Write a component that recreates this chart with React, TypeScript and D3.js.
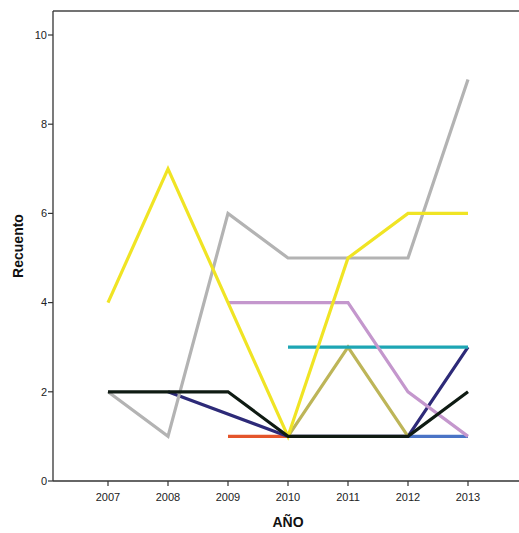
import React from "react";
import * as d3 from "d3";

const years = [2007, 2008, 2009, 2010, 2011, 2012, 2013];
const yTicks = [0, 2, 4, 6, 8, 10];

type Pt = [number, number];
const seriesNames = ["naranja", "azul", "azulMarino", "olivo", "cian", "lila", "negro", "gris", "amarillo"];
const naranja: Pt[] = [[2009, 1], [2010, 1]];
const azul: Pt[] = [[2012, 1], [2013, 1]];
const azulMarino: Pt[] = [[2008, 2], [2010, 1], [2011, 1], [2012, 1], [2013, 3]];
const olivo: Pt[] = [[2010, 1], [2011, 3], [2012, 1]];
const cian: Pt[] = [[2010, 3], [2011, 3], [2012, 3], [2013, 3]];
const lila: Pt[] = [[2009, 4], [2010, 4], [2011, 4], [2012, 2], [2013, 1]];
const negro: Pt[] = [[2007, 2], [2008, 2], [2009, 2], [2010, 1], [2011, 1], [2012, 1], [2013, 2]];
const gris: Pt[] = [[2007, 2], [2008, 1], [2009, 6], [2010, 5], [2011, 5], [2012, 5], [2013, 9]];
const amarillo: Pt[] = [[2007, 4], [2008, 7], [2009, 4], [2010, 1], [2011, 5], [2012, 6], [2013, 6]];

const seriesData: Pt[][] = [naranja, azul, azulMarino, olivo, cian, lila, gris, amarillo, negro];
const seriesColors = ["#e4552b", "#4a74c6", "#2d2a78", "#bdb558", "#1ea6b4", "#c497cd", "#b3b3b3", "#f0e424", "#0f1b13"];

export default function App() {
  const W = 519, H = 533;
  const left = 53, top = 11, right = 519, bottom = 481;
  const x = d3.scalePoint<number>().domain(years).range([108, 468]);
  const y = d3.scaleLinear().domain([0, 10]).range([bottom, 35]);
  const line = d3.line<Pt>().x(d => x(d[0]) as number).y(d => y(d[1]));
  const font = "Arial, 'Liberation Sans', sans-serif";
  return (
    <svg width={W} height={H} style={{ position: "absolute", left: 0, top: 0 }} fontFamily={font}>
      <rect x={0} y={0} width={W} height={H} fill="#fff" />
      {seriesData.map((s, i) => (
        <path key={i} d={line(s) || ""} fill="none" stroke={seriesColors[i]} strokeWidth={3.2} strokeLinejoin="miter" strokeLinecap="butt" />
      ))}
      <line x1={left} x2={right} y1={top} y2={top} stroke="#444" strokeWidth={1.3} />
      <line x1={left} x2={left} y1={top} y2={bottom} stroke="#333" strokeWidth={1.3} />
      <line x1={left} x2={right} y1={bottom} y2={bottom} stroke="#333" strokeWidth={1.3} />
      {yTicks.map(t => (
        <g key={t}>
          <line x1={left - 5} x2={left} y1={y(t)} y2={y(t)} stroke="#333" strokeWidth={1.2} />
          <text x={left - 6} y={y(t)} dy="0.35em" textAnchor="end" fontSize={11} fill="#222">{t}</text>
        </g>
      ))}
      {years.map(yr => (
        <g key={yr}>
          <line x1={x(yr)} x2={x(yr)} y1={bottom} y2={bottom + 5} stroke="#333" strokeWidth={1.2} />
          <text x={x(yr)} y={bottom + 20} textAnchor="middle" fontSize={11} fill="#222">{yr}</text>
        </g>
      ))}
      <text x={288} y={527} textAnchor="middle" fontSize={14} fontWeight="bold" fill="#111">AÑO</text>
      <text transform={`translate(23,246) rotate(-90)`} textAnchor="middle" fontSize={14} fontWeight="bold" fill="#111">Recuento</text>
    </svg>
  );
}
